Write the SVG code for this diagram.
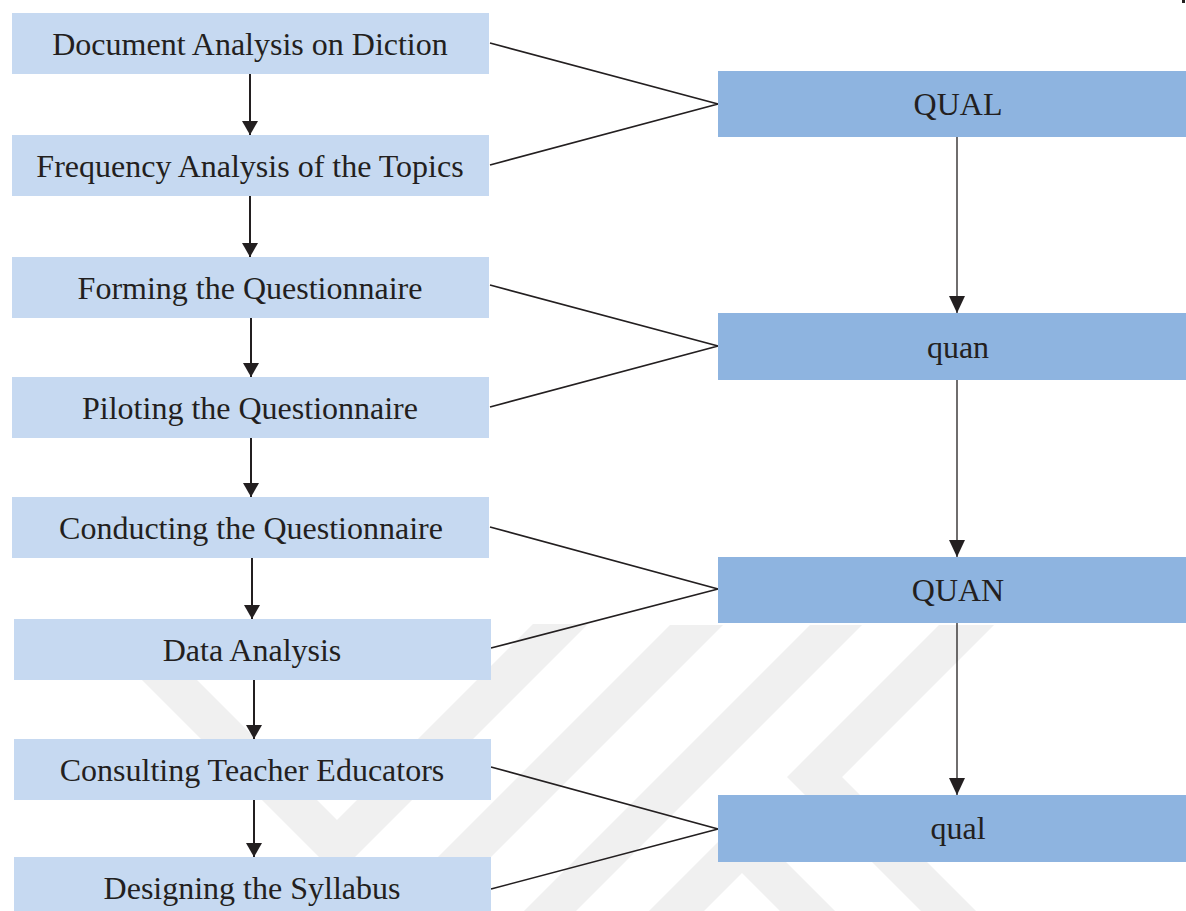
<svg xmlns="http://www.w3.org/2000/svg" width="1186" height="911" viewBox="0 0 1186 911">
  <defs>
    <style>
      .lbox { fill: #c6d9f1; }
      .rbox { fill: #8eb4e0; }
      .lbl { font-family: "Liberation Serif", "Times New Roman", serif; font-size: 32px; fill: #231f20; text-anchor: middle; }
      .flow { stroke: #231f20; stroke-width: 2; fill: none; }
      .thin { stroke: #231f20; stroke-width: 1.3; fill: none; }
      .fan { stroke: #231f20; stroke-width: 1.6; fill: none; }
      .wm { fill: #f0f0f0; }
    </style>
    <marker id="ah" viewBox="0 0 14 16" refX="14" refY="8" markerWidth="14" markerHeight="16" markerUnits="userSpaceOnUse" orient="auto">
      <path d="M0,0 L14,8 L0,16 Z" fill="#231f20"/>
    </marker>
    <marker id="ah2" viewBox="0 0 17 16" refX="17" refY="8" markerWidth="17" markerHeight="16" markerUnits="userSpaceOnUse" orient="auto">
      <path d="M0,0 L17,8 L0,16 Z" fill="#231f20"/>
    </marker>
    <clipPath id="wmclip"><rect x="0" y="624" width="1186" height="287"/></clipPath>
  </defs>
  <rect width="1186" height="911" fill="#ffffff"/>

  <g id="watermark" clip-path="url(#wmclip)">
    <polygon class="wm" points="62,600 117,600 337,820 557,600 612,600 337,875"/>
    <polygon class="wm" points="670,625 723,625 400,948 347,948"/>
    <polygon class="wm" points="810,625 862,625 539,948 487,948"/>
    <polygon class="wm" points="939,625 994,625 842,777 995,930 940,930 787,777"/>
    <polygon class="wm" points="742,818 840,916 785,916 742,873 699,916 644,916"/>
  </g>

  <g id="connectors">
    <line class="flow" x1="250" y1="74" x2="250" y2="135" marker-end="url(#ah)"/>
    <line class="flow" x1="250" y1="196" x2="250" y2="257" marker-end="url(#ah)"/>
    <line class="flow" x1="251" y1="318" x2="251" y2="377" marker-end="url(#ah)"/>
    <line class="flow" x1="251" y1="438" x2="251" y2="497" marker-end="url(#ah)"/>
    <line class="flow" x1="252" y1="558" x2="252" y2="619" marker-end="url(#ah)"/>
    <line class="flow" x1="254" y1="680" x2="254" y2="739" marker-end="url(#ah)"/>
    <line class="flow" x1="254" y1="800" x2="254" y2="857" marker-end="url(#ah)"/>

    <line class="thin" x1="957" y1="137" x2="957" y2="313" marker-end="url(#ah2)"/>
    <line class="thin" x1="957" y1="380" x2="957" y2="557" marker-end="url(#ah2)"/>
    <line class="thin" x1="957" y1="623" x2="957" y2="795" marker-end="url(#ah2)"/>

    <polyline class="fan" points="490,43 718,104 490,165"/>
    <polyline class="fan" points="490,285 718,346 490,407"/>
    <polyline class="fan" points="490,527 718,589 491,648"/>
    <polyline class="fan" points="491,767 718,829 491,889"/>
  </g>

  <g id="n1"><rect class="lbox" x="12" y="13" width="477" height="61"/><text class="lbl" x="250" y="55">Document Analysis on Diction</text></g>
  <g id="n2"><rect class="lbox" x="12" y="135" width="477" height="61"/><text class="lbl" x="250" y="177">Frequency Analysis of the Topics</text></g>
  <g id="n3"><rect class="lbox" x="12" y="257" width="477" height="61"/><text class="lbl" x="250" y="299">Forming the Questionnaire</text></g>
  <g id="n4"><rect class="lbox" x="12" y="377" width="477" height="61"/><text class="lbl" x="250" y="419">Piloting the Questionnaire</text></g>
  <g id="n5"><rect class="lbox" x="12" y="497" width="477" height="61"/><text class="lbl" x="251" y="539">Conducting the Questionnaire</text></g>
  <g id="n6"><rect class="lbox" x="14" y="619" width="477" height="61"/><text class="lbl" x="252" y="661">Data Analysis</text></g>
  <g id="n7"><rect class="lbox" x="14" y="739" width="477" height="61"/><text class="lbl" x="252" y="781">Consulting Teacher Educators</text></g>
  <g id="n8"><rect class="lbox" x="14" y="857" width="477" height="61"/><text class="lbl" x="252" y="899">Designing the Syllabus</text></g>

  <g id="r1"><rect class="rbox" x="718" y="71" width="470" height="66"/><text class="lbl" x="958" y="115">QUAL</text></g>
  <g id="r2"><rect class="rbox" x="718" y="313" width="470" height="67"/><text class="lbl" x="958" y="358">quan</text></g>
  <g id="r3"><rect class="rbox" x="718" y="557" width="470" height="66"/><text class="lbl" x="958" y="601">QUAN</text></g>
  <g id="r4"><rect class="rbox" x="718" y="795" width="470" height="67"/><text class="lbl" x="958" y="839">qual</text></g>

  <rect x="1182" y="0" width="3" height="3" fill="#231f20"/>
</svg>
